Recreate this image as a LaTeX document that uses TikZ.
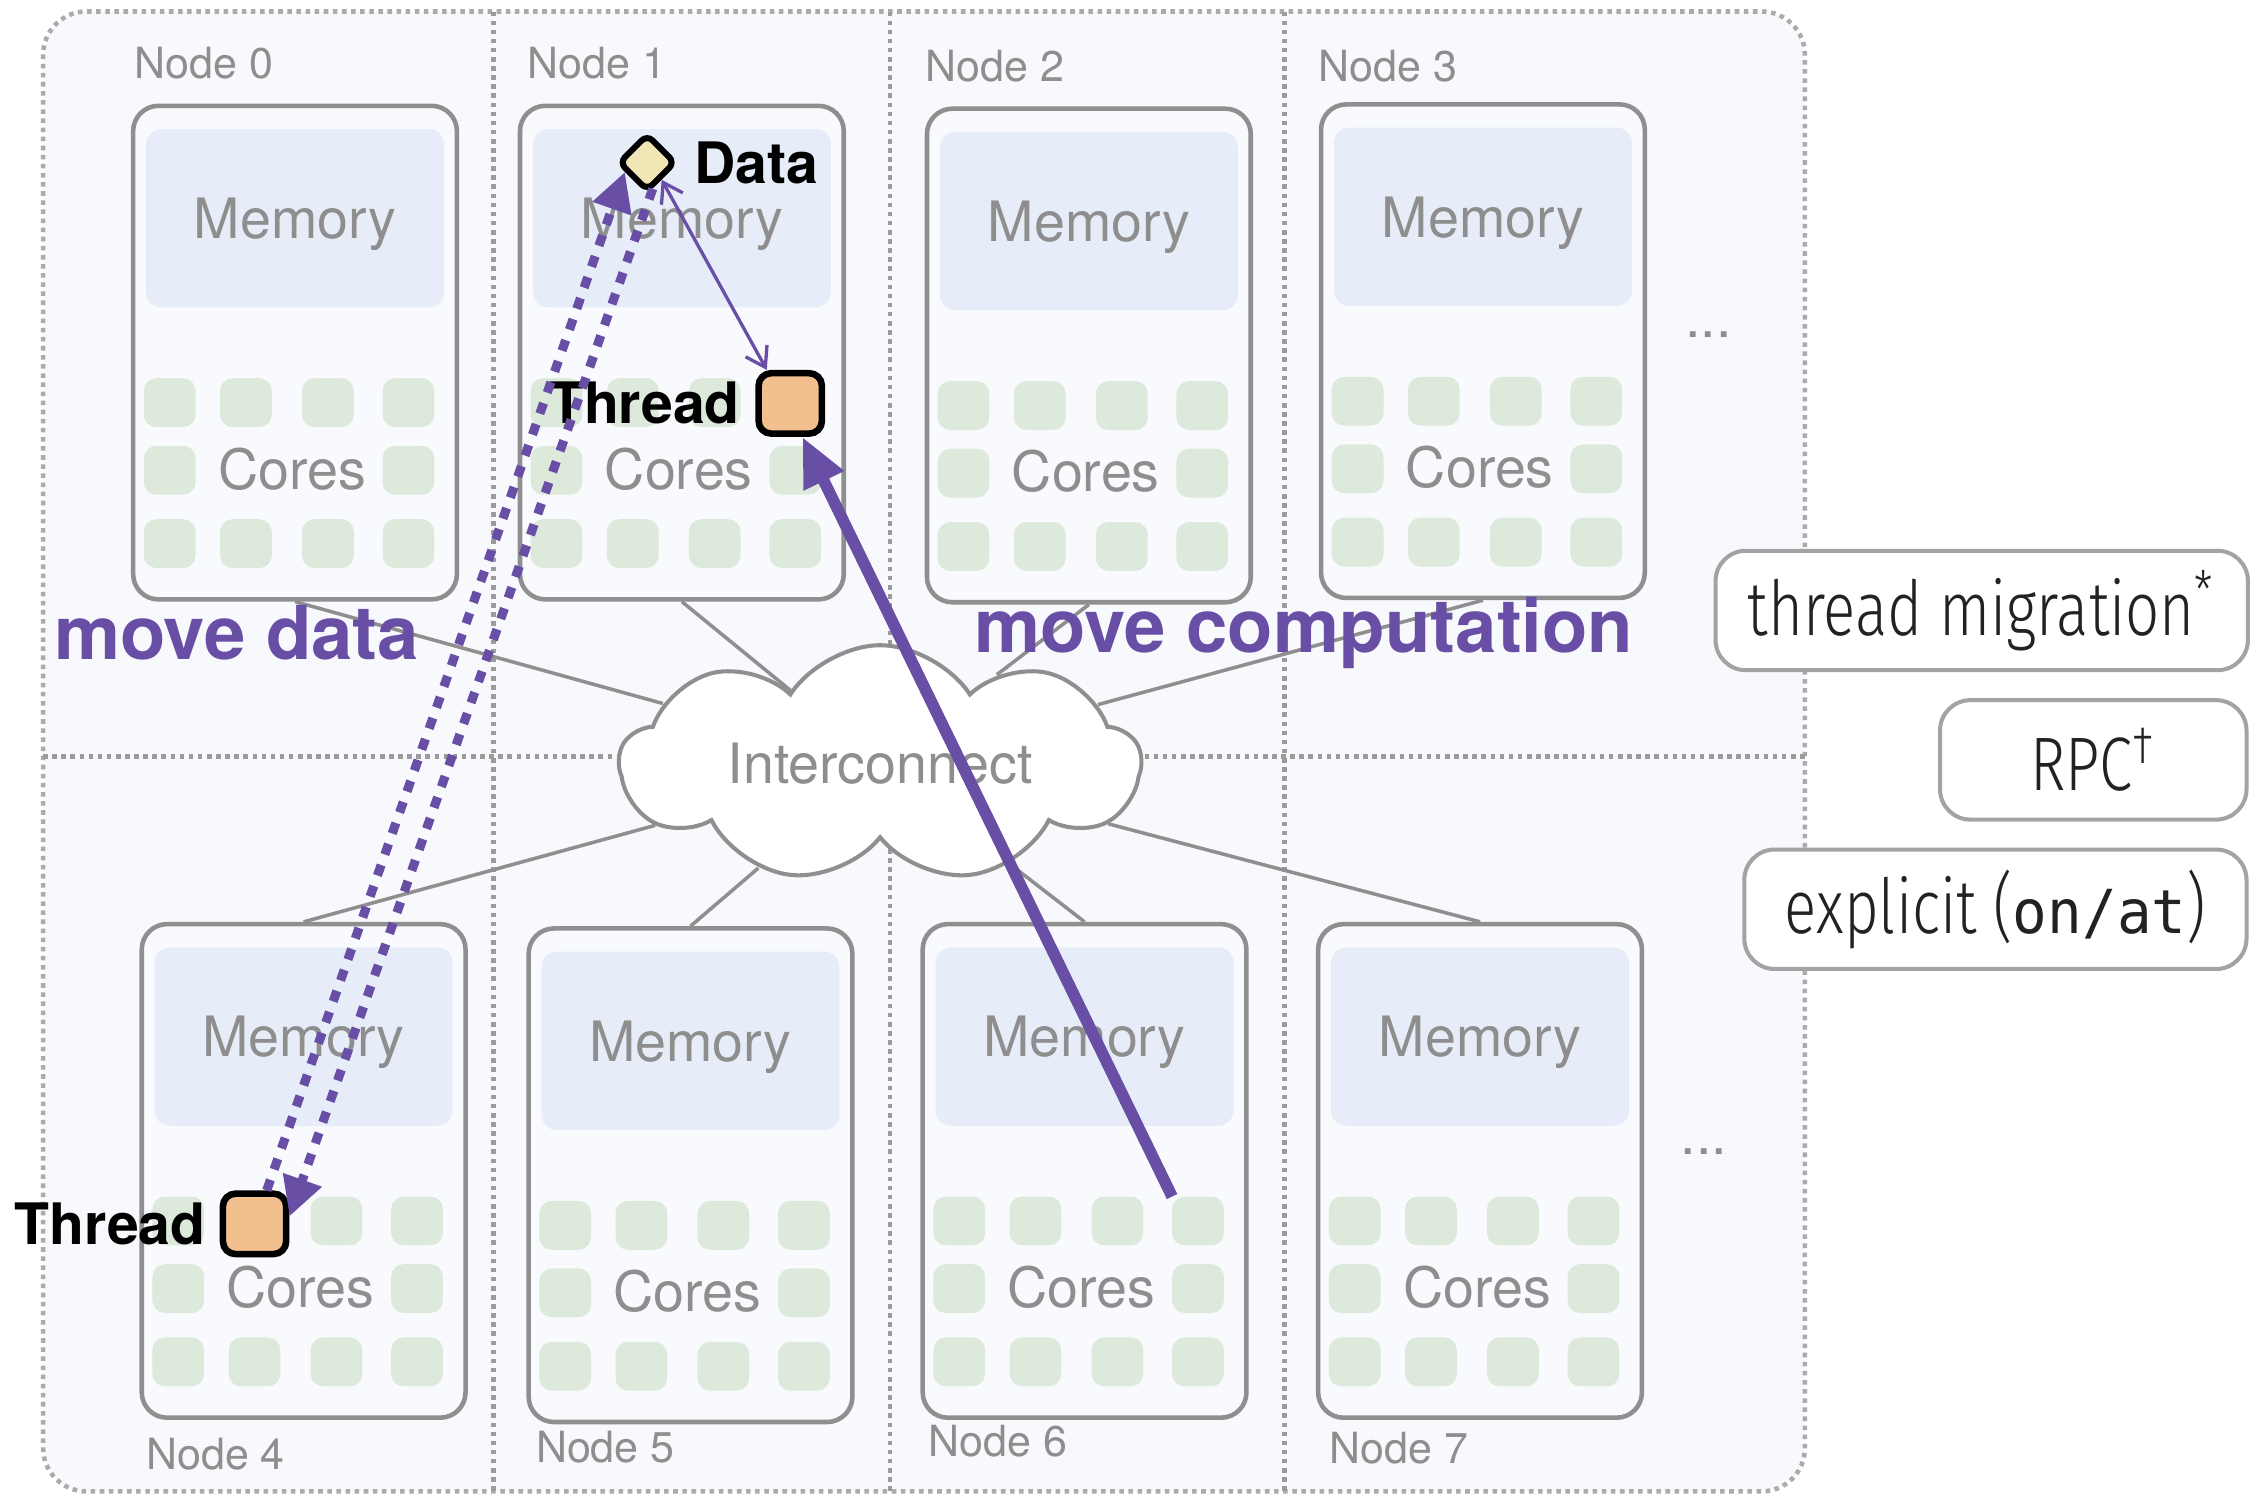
\documentclass[tikz,border=0pt]{standalone}
\usepackage{fontspec}
\setmainfont{TeX Gyre Heros}
\newfontfamily\legendfont{Fira Sans Light}[FakeStretch=0.79]
\newfontfamily\legendmono{DejaVu Sans Mono}[FakeStretch=0.95]
\usetikzlibrary{arrows.meta,positioning,shapes.symbols,shapes.geometric,backgrounds}

\definecolor{purp}{HTML}{684EA4}
\definecolor{boxgray}{HTML}{8F8F8F}
\definecolor{textgray}{HTML}{8E8E8E}
\definecolor{divgray}{HTML}{9B9B9B}
\definecolor{outergray}{HTML}{ABABAB}
\definecolor{memblue}{HTML}{E7EDF8}
\definecolor{coregreen}{HTML}{DCE9DB}
\definecolor{bgfill}{HTML}{F8F9FC}
\definecolor{boxfill}{HTML}{F9FAFD}
\definecolor{threadfill}{HTML}{F2C08E}
\definecolor{datafill}{HTML}{F1E7B6}
\definecolor{legendgray}{HTML}{A3A3A3}
\definecolor{legendtext}{HTML}{222222}

\tikzset{
  machine/.style={draw=boxgray, line width=0.9pt, fill=boxfill, rounded corners=5pt,
    minimum width=2.25cm, minimum height=3.43cm, anchor=north west, inner sep=0pt},
  mem/.style={fill=memblue, rounded corners=3pt, minimum width=2.07cm, minimum height=1.24cm,
    inner sep=0pt, text depth=0pt, text=textgray, font=\fontsize{11}{13}\selectfont},
  core/.style={fill=coregreen, rounded corners=2.5pt, minimum width=0.36cm,
    minimum height=0.34cm, inner sep=0pt},
  corelabel/.style={text=textgray, font=\fontsize{11}{13}\selectfont, inner sep=0pt},
  nodelabel/.style={text=textgray, font=\fontsize{8.5}{10}\selectfont, inner sep=0pt},
  link/.style={draw=boxgray, line width=0.7pt},
  divider/.style={draw=divgray, line width=0.9pt, dash pattern=on 0.9pt off 0.9pt},
  threadbox/.style={draw=black, line width=1.3pt, fill=threadfill, rounded corners=2.5pt,
    minimum width=0.44cm, minimum height=0.42cm, inner sep=0pt},
  datum/.style={diamond, draw=black, line width=1.2pt, fill=datafill, rounded corners=1.5pt,
    minimum width=0.40cm, minimum height=0.40cm, inner sep=0pt},
  boldlabel/.style={font=\bfseries\fontsize{11.3}{13}\selectfont, inner sep=0pt},
  movelabel/.style={text=purp, font=\bfseries\fontsize{14.7}{18}\selectfont, inner sep=0pt, anchor=west},
  legend/.style={draw=legendgray, line width=0.8pt, fill=white, rounded corners=6pt,
    minimum height=0.83cm, inner sep=0pt, text=legendtext, font=\legendfont\fontsize{15}{17}\selectfont},
  migrate/.style={draw=purp, line width=2.3pt, -{Triangle[length=0.34cm,width=0.29cm]}},
  fetch/.style={draw=purp, line width=1.8pt, dash pattern=on 2.2pt off 2.2pt,
    -{Triangle[length=0.27cm,width=0.27cm]}},
  access/.style={draw=purp, line width=0.65pt,
    {Straight Barb[length=0.13cm,width=0.17cm]}-{Straight Barb[length=0.13cm,width=0.17cm]}}
}

\begin{document}
\begin{tikzpicture}[x=0.01cm, y=-0.01cm]
  \useasboundingbox (0,0) rectangle (1568,1039);

  % cluster outline and quadrants
  \draw[draw=outergray, fill=bgfill, line width=0.9pt, dash pattern=on 0.9pt off 0.9pt,
    rounded corners=0.3cm] (30,8) rectangle (1255,1037);
  \foreach \x in {343,619,893}
    \draw[divider] (\x,8) -- (\x,1037);
  \draw[divider] (30,526) -- (1255,526);

  % the eight machines
  \foreach \name/\x/\y in {n0/91/72, n1/360/72, n2/643/74, n3/917/71,
                           n4/97/641, n5/366/644, n6/640/641, n7/915/641} {
    \node[machine] (\name) at (\x,\y) {};
    \node[mem, below=0.17cm of \name.north] {Memory};
    \foreach \cx in {27,80,137,193} {
      \node[core] at (\x+\cx,\y+208) {};
      \node[core] at (\x+\cx,\y+306) {};
    }
    \foreach \cx in {27,193}
      \node[core] at (\x+\cx,\y+255) {};
    \node[corelabel] at (\x+112,\y+254) {Cores};
  }

  \node[nodelabel, above right=0.16cm and 0.02cm of n0.north west] (l0) {Node 0};
  \node[nodelabel, above right=0.16cm and 0.06cm of n1.north west] (l1) {Node 1};
  \node[nodelabel, above right=0.16cm and 0cm of n2.north west] (l2) {Node 2};
  \node[nodelabel, above right=0.13cm and -0.01cm of n3.north west] (l3) {Node 3};
  \node[nodelabel, below right=0.12cm and 0.04cm of n4.south west] (l4) {Node 4};
  \node[nodelabel, below right=0.04cm and 0.06cm of n5.south west] (l5) {Node 5};
  \node[nodelabel, below right=0.03cm and 0.05cm of n6.south west] (l6) {Node 6};
  \node[nodelabel, below right=0.08cm and 0.09cm of n7.south west] (l7) {Node 7};

  % interconnect
  \node[cloud, draw=boxgray, line width=0.8pt, fill=white, cloud puffs=9, cloud puff arc=115,
    aspect=2.6, minimum width=3.62cm, minimum height=1.34cm, inner sep=0pt,
    text=textgray, font=\fontsize{11}{13}\selectfont] (ic) at (612,531) {Interconnect};
  \path[link] (n0.south) edge (ic)
              (n1.south) edge (ic)
              (n2.south) edge (ic)
              (n3.south) edge (ic)
              (n4.north) edge (ic)
              (n5.north) edge (ic)
              (n6.north) edge (ic)
              (n7.north) edge (ic);

  \node[text=textgray, font=\fontsize{11}{13}\selectfont] (more1) at (1188,233) {...};
  \node[text=textgray, font=\fontsize{11}{13}\selectfont] (more2) at (1185,801) {...};

  \node[movelabel] (md) at (37,440) {move data};
  \node[movelabel] (mc) at (677,440) {move computation};

  % data and threads
  \node[datum] (data) at (450,113) {};
  \node[boldlabel, right=0.1cm of data] (datal) {Data};
  \node[threadbox] (t1) at (549.5,280.5) {};
  \node[boldlabel, left=0.1cm of t1] (t1l) {Thread};
  \node[threadbox] (t4) at (177,851) {};
  \node[boldlabel, left=0.09cm of t4] (t4l) {Thread};

  \coordinate (start6) at (815,832);
  \draw[migrate] (start6) -- (t1.-70);
  \draw[fetch] (t4.70) -- (data.203);
  \draw[fetch] (data.-78) -- (t4.12);
  \draw[access] (data.-50) -- (t1.125);

  % legend boxes
  \node[legend, minimum width=3.70cm] (tm) at (1378,424.5) {thread migration\textsuperscript{*}};
  \node[legend, minimum width=2.13cm, below left=0.18cm and 0.01cm of tm.south east] (rpc) {RPC\textsuperscript{\textdagger}};
  \node[legend, minimum width=3.49cm, below left=0.18cm and 0cm of rpc.south east] (ex) {explicit ({\legendmono\fontsize{12}{15}\selectfont on/at})};
\end{tikzpicture}
\end{document}
